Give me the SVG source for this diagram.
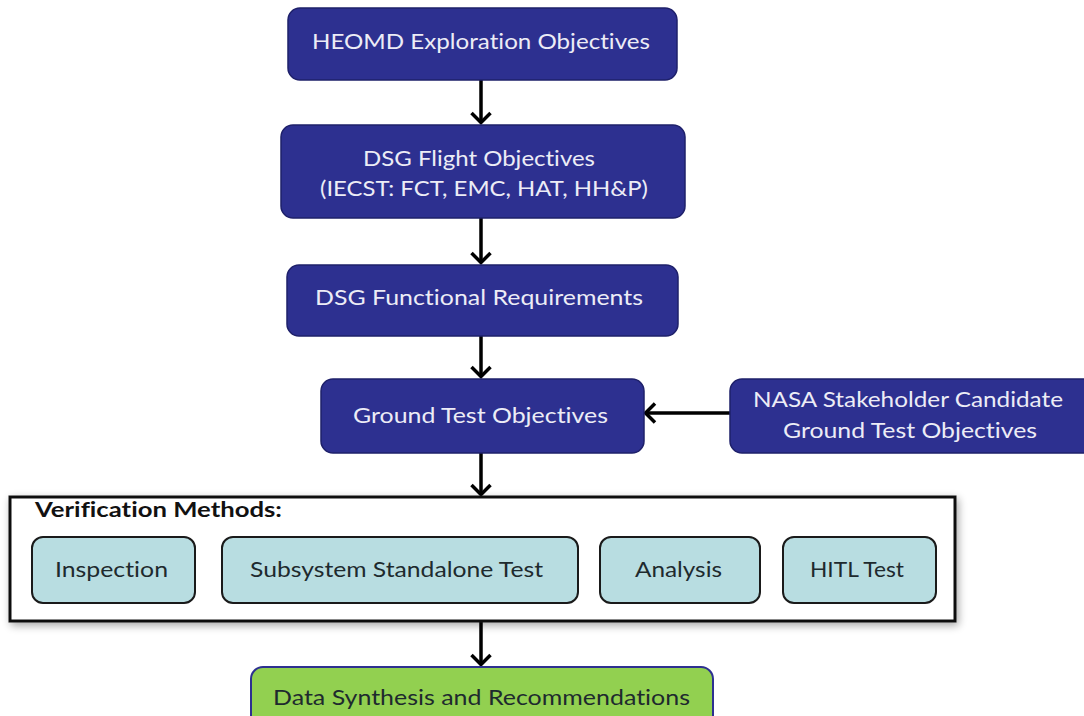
<svg xmlns="http://www.w3.org/2000/svg" width="1084" height="716" viewBox="0 0 1084 716">
  <defs>
    <style>
      text { font-variant-ligatures: none; font-feature-settings: "liga" 0, "clig" 0; }
      .blue { fill: #2d3090; stroke: #1e206a; stroke-width: 1.5; }
      .light { fill: #b8dde1; stroke: #1a1a1a; stroke-width: 2; }
      .green { fill: #92d050; stroke: #2d3090; stroke-width: 2; }
      .wt { font-family: Lato, "Open Sans", sans-serif; font-size: 22px; fill: #ececf6; text-anchor: middle; }
      .dt { font-family: Lato, "Open Sans", sans-serif; font-size: 21px; fill: #1e2a2e; text-anchor: middle; }
      .ttl { font-family: Lato, "Open Sans", sans-serif; font-size: 21px; font-weight: bold; fill: #111; }
      .conn { stroke: #000; stroke-width: 3.5; fill: none; marker-end: url(#arr); }
    </style>
    <marker id="arr" markerUnits="userSpaceOnUse" viewBox="-13 -12 16 24" markerWidth="16" markerHeight="24" refX="0" refY="0" orient="auto">
      <path d="M-10,-9.5 L-0.5,0 L-10,9.5" fill="none" stroke="#000" stroke-width="3.5" stroke-linejoin="miter"/>
    </marker>
    <filter id="sh" x="-5%" y="-20%" width="110%" height="140%">
      <feGaussianBlur in="SourceAlpha" stdDeviation="4"/>
      <feOffset dx="2" dy="3" result="b"/>
      <feComponentTransfer><feFuncA type="linear" slope="0.35"/></feComponentTransfer>
      <feMerge><feMergeNode/><feMergeNode in="SourceGraphic"/></feMerge>
    </filter>
  </defs>
  <rect width="1084" height="716" fill="#fff"/>

  <g id="connectors">
    <line class="conn" x1="481" y1="80" x2="481" y2="123"/>
    <line class="conn" x1="481" y1="218" x2="481" y2="263"/>
    <line class="conn" x1="481" y1="336" x2="481" y2="377"/>
    <line class="conn" x1="481" y1="453" x2="481" y2="495"/>
    <line class="conn" x1="481" y1="622" x2="481" y2="665"/>
    <line class="conn" x1="730" y1="413" x2="645" y2="413"/>
  </g>

  <g id="heomd">
    <rect class="blue" x="288" y="8" width="389" height="72" rx="12"/>
    <text class="wt" x="481" y="49" textLength="338" lengthAdjust="spacingAndGlyphs">HEOMD Exploration Objectives</text>
  </g>

  <g id="dsg-flight">
    <rect class="blue" x="281" y="125" width="404" height="93" rx="12"/>
    <text class="wt" x="479" y="166" textLength="232" lengthAdjust="spacingAndGlyphs">DSG Flight Objectives</text>
    <text class="wt" x="484" y="196" textLength="328" lengthAdjust="spacingAndGlyphs">(IECST: FCT, EMC, HAT, HH&amp;P)</text>
  </g>

  <g id="dsg-func">
    <rect class="blue" x="287" y="265" width="391" height="71" rx="12"/>
    <text class="wt" x="479" y="305" textLength="328" lengthAdjust="spacingAndGlyphs">DSG Functional Requirements</text>
  </g>

  <g id="ground">
    <rect class="blue" x="321" y="379" width="323" height="74" rx="12"/>
    <text class="wt" x="480.5" y="423" textLength="255" lengthAdjust="spacingAndGlyphs">Ground Test Objectives</text>
  </g>

  <g id="nasa">
    <rect class="blue" x="730" y="379" width="370" height="74" rx="12"/>
    <text class="wt" x="908" y="407" textLength="310" lengthAdjust="spacingAndGlyphs">NASA Stakeholder Candidate</text>
    <text class="wt" x="910" y="438" textLength="254" lengthAdjust="spacingAndGlyphs">Ground Test Objectives</text>
  </g>

  <g id="verification">
    <rect x="10" y="497" width="945" height="124" fill="#fff" stroke="#111" stroke-width="3" filter="url(#sh)"/>
    <text class="ttl" x="35" y="517" textLength="247" lengthAdjust="spacingAndGlyphs">Verification Methods:</text>
  </g>

  <g id="inspection">
    <rect class="light" x="32" y="537" width="163" height="66" rx="11"/>
    <text class="dt" x="111.5" y="577" textLength="113" lengthAdjust="spacingAndGlyphs">Inspection</text>
  </g>

  <g id="subsystem">
    <rect class="light" x="222" y="537" width="356" height="66" rx="11"/>
    <text class="dt" x="396.5" y="577" textLength="293" lengthAdjust="spacingAndGlyphs">Subsystem Standalone Test</text>
  </g>

  <g id="analysis">
    <rect class="light" x="600" y="537" width="160" height="66" rx="11"/>
    <text class="dt" x="678.5" y="577" textLength="87" lengthAdjust="spacingAndGlyphs">Analysis</text>
  </g>

  <g id="hitl">
    <rect class="light" x="783" y="537" width="153" height="66" rx="11"/>
    <text class="dt" x="857" y="577" textLength="94" lengthAdjust="spacingAndGlyphs">HITL Test</text>
  </g>

  <g id="data">
    <rect class="green" x="251" y="667" width="462" height="70" rx="12"/>
    <text class="dt" x="481.5" y="705" textLength="417" lengthAdjust="spacingAndGlyphs" fill="#1a1a1a">Data Synthesis and Recommendations</text>
  </g>
</svg>
